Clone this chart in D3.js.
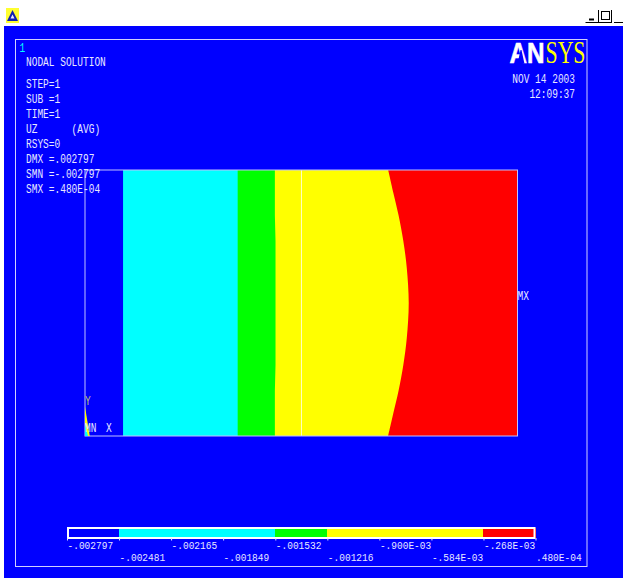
<!DOCTYPE html>
<html><head><meta charset="utf-8">
<script src="https://cdnjs.cloudflare.com/ajax/libs/d3/7.8.5/d3.min.js"></script>
<style>html,body{margin:0;padding:0;background:#fff;overflow:hidden}svg{display:block}
text{font-family:"Liberation Mono",monospace;font-size:12px;fill:#e8e8ff;white-space:pre}</style>
</head><body><svg id="c" width="623" height="578"></svg>
<script>
// Legend
const legendValues=[-0.002797,-0.002481,-0.002165,-0.001849,-0.001532,-0.001216,-0.000900,-0.000584,-0.000268,0.000048];
const legendLabels=["-.002797","-.002481","-.002165","-.001849","-.001532","-.001216","-.900E-03","-.584E-03","-.268E-03",".480E-04"];
const legendColors=["#0000ff","#00ffff","#00ffff","#00ffff","#00ff00","#ffff00","#ffff00","#ffff00","#ff0000"];
// Contour boundaries in model coordinates (0-100 across, 0-100 up)
const boundaryY=[0,8.6,17,26.7,36.8,50,63.2,73.3,83,91.4,100];
const cyanStart=[8.8,8.8,8.8,8.8,8.8,8.8,8.8,8.8,8.8,8.8,8.8];
const greenStart=[35.3,35.3,35.3,35.3,35.3,35.3,35.3,35.3,35.3,35.3,35.3];
const yellowStart=[43.9,43.9,43.9,44.05,44.05,44.05,44.05,44.05,43.9,43.9,43.9];
const redStart=[70.1,71.3,72.5,73.6,74.4,74.85,74.4,73.6,72.5,71.3,70.1];
const elementLineX=50.05;
const wedgeX=[0,0,1.1];const wedgeY=[0,11,0];
const coreX=[0,0,0.7];const coreY=[0,4.5,0];
// Annotation text
const infoLines=["STEP=1","SUB =1","TIME=1","UZ      (AVG)","RSYS=0","DMX =.002797","SMN =-.002797","SMX =.480E-04"];
const stampLines=["NOV 14 2003","12:09:37"];

const svg=d3.select("#c");
const x=d3.scaleLinear().domain([0,100]).range([85,517.5]);
const y=d3.scaleLinear().domain([0,100]).range([436,170]);
const lx=d3.scaleLinear().domain([legendValues[0],legendValues[9]]).range([67,535.5]);

// window
svg.append("rect").attr("x",4).attr("y",26).attr("width",619).attr("height",552).attr("fill","#0000ff");
const ic=svg.append("g");
ic.append("rect").attr("x",6).attr("y",8).attr("width",13).attr("height",15).attr("fill","#ffff30");
ic.append("path").attr("d","M12.5 10L18 21H7Z").attr("fill","#1020b0");
ic.append("path").attr("d","M12.5 14.5L14.5 18.5H10.5Z").attr("fill","#e8e8ff");
const wc=svg.append("g").attr("stroke","#000").attr("fill","none");
wc.append("path").attr("d","M585.5 22.5H612M614 22.5H623M598.5 10V22M611.5 10V22");
wc.append("rect").attr("x",601.5).attr("y",11.5).attr("width",8).attr("height",8);
wc.append("path").attr("d","M589 19.5H594").attr("stroke-width",2);
svg.append("rect").attr("x",15.5).attr("y",39.5).attr("width",571.5).attr("height",527).attr("fill","none").attr("stroke","#d0d0ff");

// contour bands
const rows=boundaryY.map((v,i)=>({y:v,cyan:cyanStart[i],green:greenStart[i],yellow:yellowStart[i],red:redStart[i]}));
const band=(k)=>d3.area().y(d=>y(d.y)).x0(d=>x(d[k])).x1(x(100)).curve(k==="red"?d3.curveCatmullRom:d3.curveLinear);
[["cyan","#00ffff"],["green","#00ff00"],["yellow","#ffff00"],["red","#ff0000"]].forEach(([k,c])=>{
  svg.append("path").datum(rows).attr("d",band(k)).attr("fill",c);
});
const poly=d3.line().x(d=>x(d[0])).y(d=>y(d[1]));
svg.append("line").attr("x1",x(elementLineX)).attr("x2",x(elementLineX)).attr("y1",y(0)).attr("y2",y(100)).attr("stroke","#ffffc8").attr("stroke-width",1);
svg.append("rect").attr("x",x(0)).attr("y",y(100)).attr("width",x(100)-x(0)).attr("height",y(0)-y(100)).attr("fill","none").attr("stroke","#c0c0ff").attr("stroke-width",1);
svg.append("path").attr("d",poly(d3.zip(wedgeX,wedgeY))+"Z").attr("fill","#ffff00");
svg.append("path").attr("d",poly(d3.zip(coreX,coreY))+"Z").attr("fill","#00ffff");

// text
const t=(s,px,py,o={})=>{const e=svg.append("text").attr("class","fit").attr("x",px).attr("y",py).text(s);
  if(o.fill)e.style("fill",o.fill);if(o.anchor)e.attr("text-anchor",o.anchor);return e;};
t("1",19.5,52,{fill:"#00ffff"});
t("NODAL SOLUTION",26,66.3);
infoLines.forEach((s,i)=>t(s,26,88.3+i*15));
stampLines.forEach((s,i)=>t(s,575,82.5+i*15,{anchor:"end"}));
t("MX",517.5,300);
t("Y",85,405,{fill:"#c0c070"});
t("MN",85,431.7);
t("X",106,431.7);

// legend
const lg=svg.append("g");
lg.selectAll("rect.b").data(legendColors).join("rect").attr("class","b")
  .attr("x",(d,i)=>lx(legendValues[i])).attr("width",(d,i)=>lx(legendValues[i+1])-lx(legendValues[i]))
  .attr("y",528).attr("height",10).attr("fill",d=>d).attr("shape-rendering","crispEdges");
lg.append("rect").attr("x",68).attr("y",528).attr("width",466.5).attr("height",10).attr("fill","none").attr("stroke","#fff").attr("stroke-width",2);
const ax=d3.axisBottom(lx).tickValues(legendValues).tickFormat((d,i)=>legendLabels[i]).tickSize(2.5).tickPadding(3);
const ag=svg.append("g").attr("transform","translate(0,538)").call(ax);
ag.select(".domain").remove();
ag.selectAll("line").attr("stroke","#e4e4ff");
ag.selectAll("text").attr("class","fit").attr("text-anchor","start").attr("dy",null).attr("y",(d,i)=>i%2?23.2:11).attr("x",0)
  .style("font-size","10.5px");
ag.attr("font-size",null).attr("font-family",null);

// tall narrow terminal lettering: 5.7px per character
svg.selectAll("text.fit").each(function(){
  const n=this.textContent.length;
  d3.select(this).attr("textLength",n*5.7).attr("lengthAdjust","spacingAndGlyphs");
});

// logo
svg.append("text").attr("x",509.5).attr("y",63.3).text("AN")
  .style("font-family","'Liberation Sans',sans-serif").style("font-weight","bold").style("font-size","30px").style("fill","#fff")
  .style("stroke","#fff").style("stroke-width",0.6).attr("textLength",35).attr("lengthAdjust","spacingAndGlyphs");
svg.append("path").attr("d","M517.5 63.8L520.5 50H521.5L524.5 63.8Z").attr("fill","#0000ff");
svg.append("text").attr("x",545.5).attr("y",63).text("SYS")
  .style("font-family","'Liberation Serif',serif").style("font-size","32px").style("fill","#ffff00")
  .attr("textLength",40).attr("lengthAdjust","spacingAndGlyphs");
</script></body></html>
